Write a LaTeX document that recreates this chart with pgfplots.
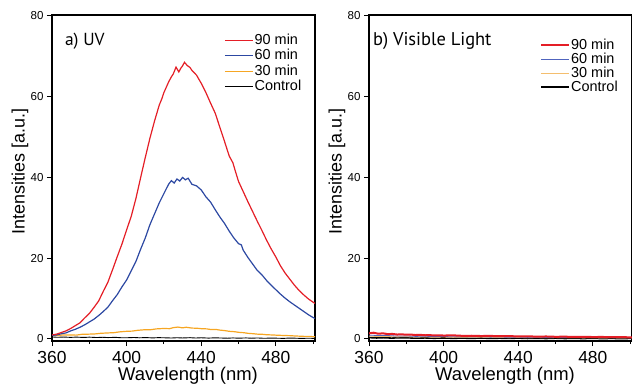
\documentclass[border=0pt]{standalone}
\usepackage{pgfplots}
\pgfplotsset{compat=1.18}
\usepackage{fontspec}
\setmainfont{Liberation Sans}
\newfontfamily\myriad{PT Sans}
\definecolor{cred}{RGB}{228,30,38}
\definecolor{cblue}{RGB}{44,72,162}
\definecolor{corange}{RGB}{246,166,35}
\definecolor{cbluel}{RGB}{80,100,190}
\definecolor{corangel}{RGB}{244,190,110}

\pgfplotsset{
  myaxis/.style={
    scale only axis, width=263bp, height=326bp,
    xmin=360, xmax=501, ymin=-0.5, ymax=80.2,
    xtick={360,400,440,480}, minor xtick={380,420,460,500},
    ytick={0,20,40,60,80},
    tick align=outside, major tick length=5bp, minor tick length=3bp,
    every tick/.style={black, line width=1bp},
    xtick pos=bottom, ytick pos=left,
    axis line style={line width=1.6bp},
    /pgf/number format/assume math mode=true,
    xticklabel style={font=\fontsize{17.5}{17.5}\selectfont, yshift=-2bp},
    yticklabel style={font=\fontsize{11.6}{12}\selectfont},
    every axis y label/.style={at={(axis description cs:-0.122,0.52)}, rotate=90, anchor=center, font=\fontsize{18}{18}\selectfont},
    every axis x label/.style={at={(axis description cs:0.517,-0.1225)}, anchor=base, font=\fontsize{18.5}{18.5}\selectfont},
    xlabel={Wavelength (nm)}, ylabel={Intensities [a.u.]},
    legend cell align=left,
    reverse legend,
    legend image code/.code={\draw[#1] (0bp,0bp) -- (28bp,0bp);},
  }
}

\begin{document}
\begin{tikzpicture}
\useasboundingbox (0,0) rectangle (632bp,385bp);
\clip (0,0) rectangle (632bp,385bp);

% ---------- panel a ----------
\begin{axis}[myaxis, at={(52bp,44bp)}, anchor=south west,
  legend style={at={(axis description cs:0.654,0.947)}, anchor=north west, draw=none, fill=none,
    font=\fontsize{14.5}{14.5}\selectfont, inner sep=0pt, row sep=0pt,
    nodes={inner sep=1.25bp, text height=10.5bp, text depth=2.5bp},
    /tikz/every even column/.style={column sep=0pt}},
  ]
\addplot[black, line width=0.9bp] coordinates {
(360,0.5)(363,0.42)(366,0.48)(370,0.4)(373,0.46)(377,0.38)(380,0.45)(384,0.36)(387,0.42)(390,0.35)(394,0.4)(397,0.31)(400,0.3)(404,0.37)(407,0.29)(410,0.35)(414,0.27)(417,0.33)(420,0.3)(424,0.24)(427,0.31)(430,0.25)(434,0.32)(437,0.24)(440,0.3)(444,0.22)(447,0.28)(450,0.25)(454,0.19)(457,0.26)(460,0.2)(464,0.26)(467,0.19)(470,0.25)(474,0.17)(477,0.23)(480,0.2)(484,0.15)(487,0.22)(490,0.2)(494,0.14)(497,0.19)(501,0.15)};
\addlegendentry{Control}
\addplot[corange, line width=1.2bp] coordinates {
(360,0.9)(363,0.85)(366,1.0)(370,1.0)(373,0.95)(376,1.15)(380,1.2)(383,1.25)(386,1.4)(390,1.5)(393,1.55)(396,1.75)(400,1.9)(403,1.95)(406,2.15)(410,2.3)(413,2.3)(416,2.5)(420,2.6)(423,2.55)(425,2.8)(427.5,2.95)(430,2.75)(432,2.9)(435,2.7)(438,2.65)(440,2.55)(443,2.5)(445,2.35)(448,2.35)(450,2.2)(453,2.05)(455,1.9)(458,1.8)(460,1.65)(463,1.55)(465,1.4)(468,1.3)(470,1.2)(473,1.15)(475,1.05)(478,1.0)(480,0.95)(485,0.85)(488,0.82)(490,0.75)(495,0.65)(498,0.62)(501,0.55)};
\addlegendentry{30 min}
\addplot[cblue, line width=1.2bp] coordinates {
(360,0.9)(362.5,1.0)(365,1.3)(367.5,1.5)(370,2.0)(372.5,2.4)(375,2.9)(377.5,3.5)(380,4.2)(382.5,4.9)(385,5.8)(387.5,6.8)(390,7.9)(392.5,9.5)(395,11.0)(397.5,12.9)(400,14.6)(402.5,16.9)(405,19.2)(407.5,22.2)(410,25.0)(412.5,28.3)(415,31.0)(417.5,33.7)(420,36.0)(422.5,38.3)(424,39.2)(425.5,38.6)(427,39.6)(428.5,39.1)(430,40.0)(431.5,39.4)(433,39.8)(435,38.3)(437.5,37.9)(440,36.9)(442.5,35.2)(445,33.9)(447.5,32.0)(450,30.2)(452.5,28.6)(455,26.7)(457.5,25.0)(460,23.6)(461.5,23.3)(462.5,22.0)(465,20.2)(467.5,18.6)(470,17.0)(472.5,15.9)(475,14.5)(477.5,13.3)(480,12.2)(482.5,11.1)(485,10.1)(487.5,9.2)(490,8.4)(492.5,7.6)(495,6.8)(497.5,6.0)(500,5.3)(501,5.1)};
\addlegendentry{60 min}
\addplot[cred, line width=1.2bp] coordinates {
(360,1.0)(362.5,1.2)(365,1.6)(367.5,2.0)(370,2.6)(372.5,3.3)(375,4.0)(377.5,5.2)(380,6.3)(382.5,7.8)(385,9.4)(387.5,11.8)(390,14.1)(392.5,17.2)(395,20.4)(397.5,23.5)(400,27.0)(402.5,30.4)(405,34.8)(407.5,39.9)(410,44.9)(412.5,49.7)(415,54.0)(417.5,57.9)(419,59.6)(420,61.0)(422.5,63.6)(424,64.9)(425,65.6)(426.5,67.3)(428,66.1)(429,67.0)(430,67.6)(431,68.5)(432.5,67.7)(434,67.2)(435,66.5)(437.5,65.3)(440,63.3)(442.5,61.0)(445,58.4)(447.5,55.9)(450,52.4)(452.5,48.9)(455,45.3)(457,43.6)(458,42.0)(460,39.0)(462.5,36.5)(465,34.0)(467.5,31.6)(470,29.2)(472.5,26.9)(475,24.5)(477.5,22.3)(480,20.3)(482.5,18.1)(485,16.3)(487.5,14.8)(490,13.3)(492.5,12.0)(495,10.9)(497.5,9.9)(500,9.1)(501,8.8)};
\addlegendentry{90 min}
\node[anchor=base west, font=\myriad\fontsize{17.5}{18}\selectfont, inner sep=0pt] at (axis description cs:0.049,0.905) {a) UV};
\end{axis}

% ---------- panel b ----------
\begin{axis}[myaxis, at={(369bp,44bp)}, anchor=south west,
  legend style={at={(axis description cs:0.650,0.930)}, anchor=north west, draw=none, fill=none,
    font=\fontsize{14.5}{14.5}\selectfont, inner sep=0pt, row sep=0pt,
    nodes={inner sep=1bp, text height=10bp, text depth=2bp},
    /tikz/every even column/.style={column sep=0pt}},
  ]
\addplot[black, line width=1.6bp] coordinates {
(360,0.35)(364,0.25)(368,0.32)(372,0.22)(376,0.3)(380,0.3)(385,0.2)(390,0.26)(395,0.18)(400,0.25)(405,0.17)(410,0.22)(415,0.15)(420,0.24)(425,0.15)(430,0.2)(435,0.14)(440,0.22)(445,0.13)(450,0.18)(455,0.12)(460,0.2)(465,0.12)(470,0.17)(475,0.11)(480,0.18)(485,0.1)(490,0.15)(495,0.1)(501,0.15)};
\addlegendentry{Control}
\addplot[corangel, line width=0.8bp] coordinates {
(360,0.7)(365,0.6)(370,0.62)(375,0.52)(380,0.55)(385,0.47)(390,0.5)(395,0.44)(400,0.48)(405,0.4)(410,0.45)(415,0.38)(420,0.42)(425,0.35)(430,0.4)(435,0.33)(440,0.38)(445,0.31)(450,0.36)(455,0.3)(460,0.35)(465,0.28)(470,0.33)(475,0.27)(480,0.32)(485,0.25)(490,0.3)(495,0.26)(501,0.3)};
\addlegendentry{30 min}
\addplot[cbluel, line width=0.8bp] coordinates {
(360,0.95)(365,0.85)(370,0.85)(375,0.72)(380,0.75)(385,0.64)(390,0.68)(395,0.58)(400,0.62)(405,0.53)(410,0.58)(415,0.5)(420,0.55)(425,0.46)(430,0.5)(435,0.43)(440,0.48)(445,0.4)(450,0.45)(455,0.37)(460,0.42)(465,0.35)(470,0.4)(475,0.33)(480,0.38)(485,0.31)(490,0.35)(495,0.29)(501,0.33)};
\addlegendentry{60 min}
\addplot[cred, line width=2bp] coordinates {
(360,1.4)(362.5,1.55)(365,1.3)(367.5,1.4)(370,1.2)(372.5,1.25)(375,1.1)(377.5,1.15)(380,1.05)(382.5,1.08)(385,0.98)(387.5,1.02)(390,0.92)(392.5,0.95)(395,0.88)(397.5,0.92)(400,0.85)(405,0.9)(410,0.78)(415,0.8)(420,0.73)(425,0.76)(430,0.68)(435,0.72)(440,0.63)(445,0.66)(450,0.58)(455,0.62)(460,0.54)(465,0.57)(470,0.5)(475,0.54)(480,0.48)(485,0.5)(490,0.44)(495,0.46)(501,0.4)};
\addlegendentry{90 min}
\node[anchor=base west, font=\myriad\fontsize{18.5}{19}\selectfont, inner sep=0pt] at (axis description cs:0.015,0.906) {b) Visible Light};
\end{axis}
\end{tikzpicture}
\end{document}
